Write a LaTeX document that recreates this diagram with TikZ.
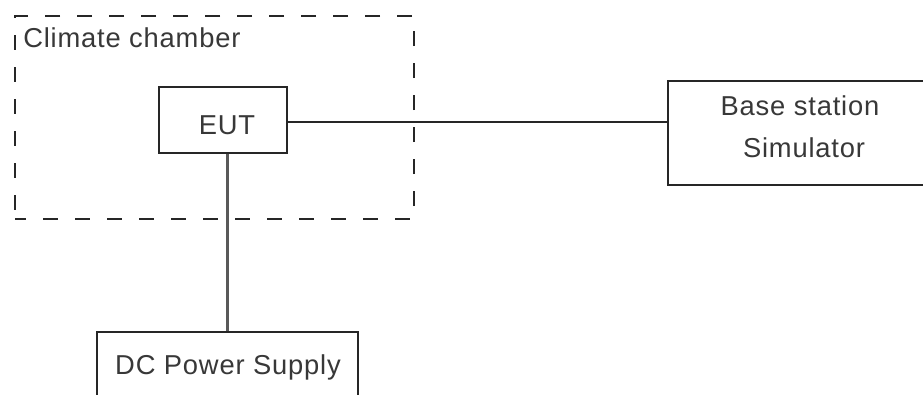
\documentclass[tikz,border=0pt]{standalone}
\usepackage{fontspec}
\setmainfont{Liberation Sans}[LetterSpace=3]
\begin{document}
\begin{tikzpicture}[x=0.75pt,y=-0.75pt,
  box/.style={draw=black!85,line width=1.2pt,inner sep=0pt,rectangle},
  chamberbox/.style={draw=black!85,line width=1.2pt,dash pattern=on 11.25pt off 12.75pt,dash phase=3pt,inner sep=0pt,rectangle},
  txt/.style={font=\fontsize{20.5pt}{24pt}\selectfont,text=black!78,inner sep=0pt},
  wire/.style={draw=black!85,line width=1.2pt},
  thickwire/.style={draw=black!65,line width=1.9pt}]
\useasboundingbox (0,0) rectangle (923,394);
\fill[white] (0,0) rectangle (923,394);
% climate chamber
\node[chamberbox,minimum width=399*0.75pt,minimum height=203*0.75pt] (chamber) at (214.5,117.5) {};
\node[txt,anchor=base west] (chamberlabel) at (23,47) {Climate chamber};
% EUT
\node[box,minimum width=128*0.75pt,minimum height=66*0.75pt] (eut) at (223,120) {};
\node[txt,anchor=base] (eutlabel) at (227,134) {EUT};
% Base station simulator
\node[box,minimum width=268*0.75pt,minimum height=104*0.75pt] (bss) at (802,133) {};
\node[txt,anchor=base] (bsslabel1) at (800,115) {Base station};
\node[txt,anchor=base] (bsslabel2) at (804,157) {Simulator};
% DC power supply
\node[box,minimum width=261*0.75pt,minimum height=64*0.75pt] (dc) at (227.5,364) {};
\node[txt,anchor=base] (dclabel) at (228,374) {DC Power Supply};
% connectors
\draw[wire] (eut.east |- 0,122) -- (bss.west |- 0,122);
\draw[thickwire] (dc.north |- eut.south) -- (dc.north);
\end{tikzpicture}
\end{document}
